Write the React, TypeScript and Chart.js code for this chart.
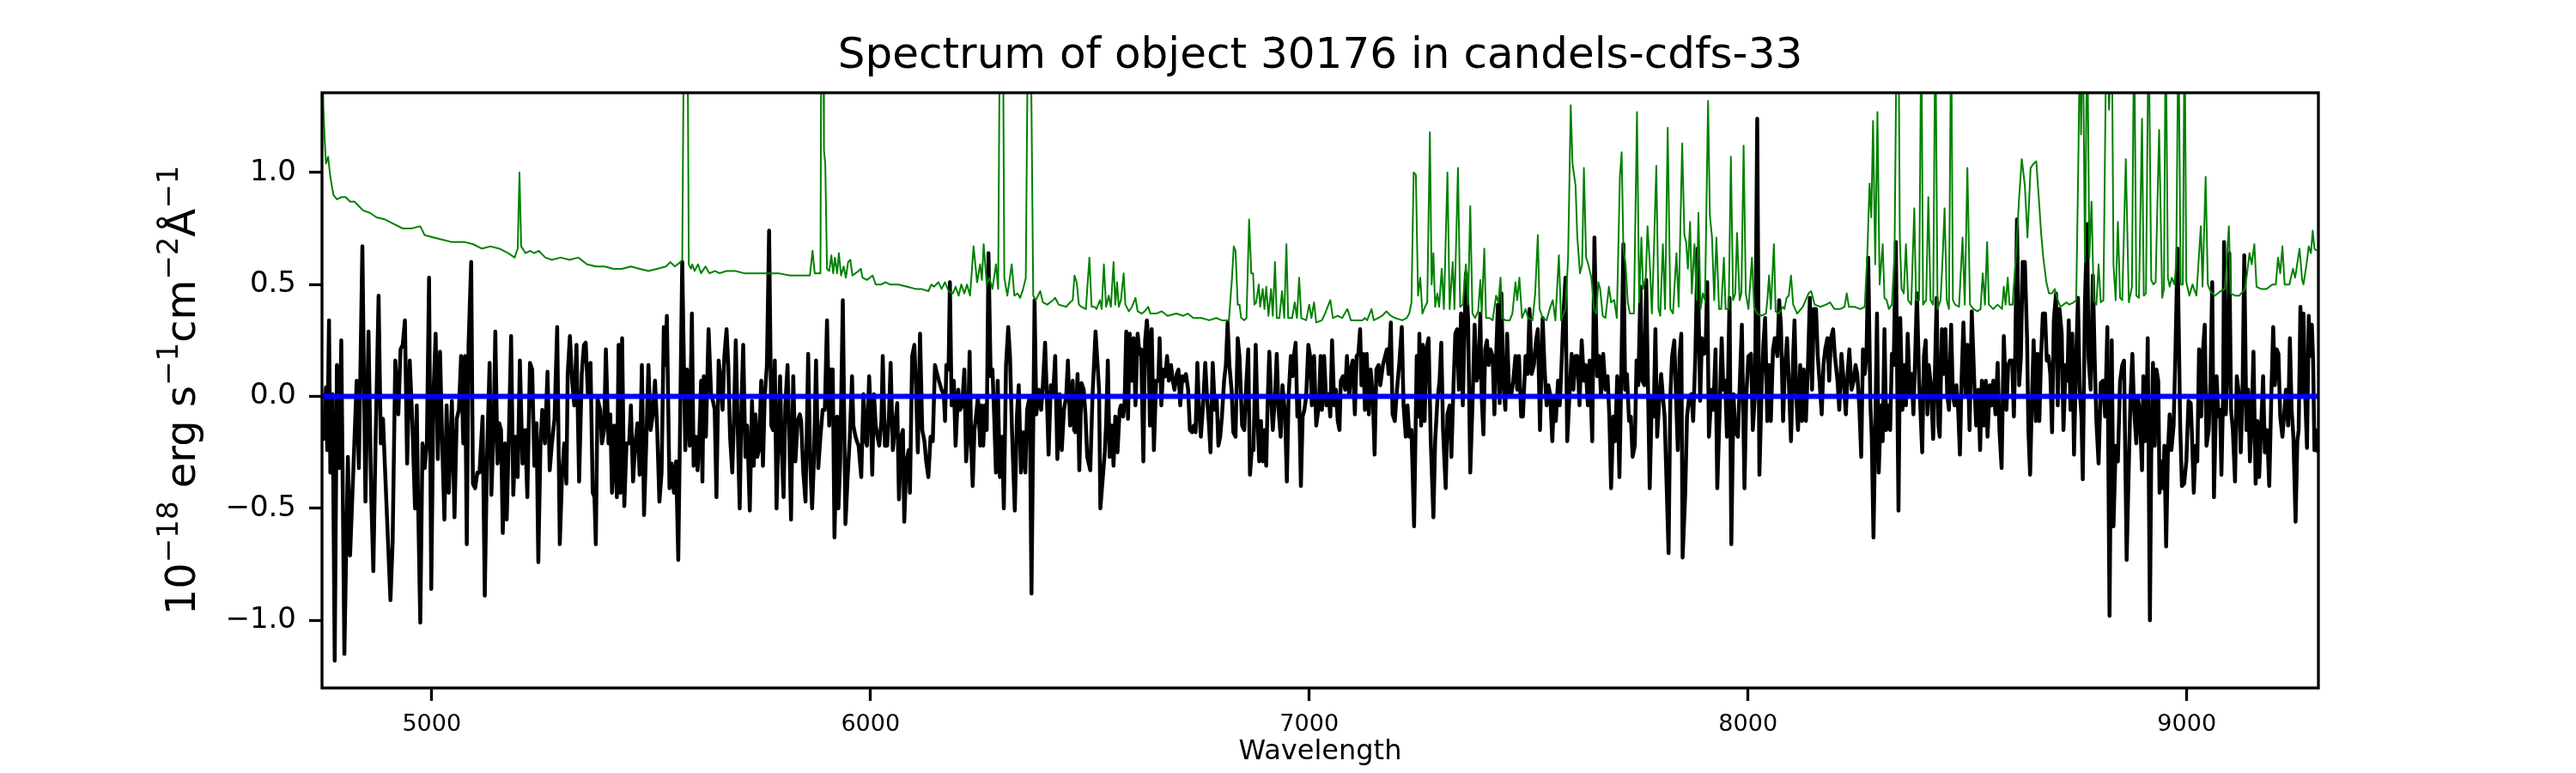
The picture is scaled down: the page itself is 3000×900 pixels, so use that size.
import { useEffect, useRef } from "react";
import { Chart, registerables } from "chart.js";

Chart.register(...registerables);

// observed flux, [wavelength (Å), 1e-18 erg/s/cm2/Å]
const fluxPoints: [number, number][] = [
  [4749,-0.17],[4754,-0.19],[4759,0.04],[4762,-0.24],[4766,0.34],[4769,-0.34],[4774,0.01],[4779,-1.18],[4784,0.14],[4789,-0.32],[4794,0.25],[4801,-1.15],[4809,-0.27],[4814,-0.71],[4822,-0.30],[4829,0.07],[4834,-0.32],[4842,0.67],[4849,-0.47],[4856,0.29],[4862,-0.43],[4867,-0.78],[4872,-0.21],[4879,0.45],[4884,-0.21],[4889,-0.10],[4894,-0.34],[4899,-0.58],[4906,-0.91],[4911,-0.65],[4917,0.16],[4924,-0.08],[4929,0.21],[4934,0.23],[4939,0.34],[4944,-0.30],[4950,0.16],[4956,-0.12],[4962,-0.50],[4966,-0.04],[4969,-0.47],[4974,-1.01],[4979,-0.21],[4984,-0.32],[4989,-0.21],[4994,0.53],[4999,-0.86],
  [5004,0.01],[5009,0.28],[5014,-0.28],[5019,0.20],[5024,-0.21],[5029,-0.55],[5034,-0.04],[5039,-0.43],[5046,-0.02],[5052,-0.54],[5057,-0.10],[5062,-0.06],[5067,0.18],[5072,-0.21],[5076,0.18],[5080,-0.66],[5084,0.23],[5090,0.60],[5094,-0.39],[5099,-0.41],[5104,-0.34],[5109,-0.34],[5116,-0.09],[5121,-0.89],[5126,-0.28],[5132,0.15],[5136,-0.44],[5141,-0.16],[5145,0.29],[5150,-0.30],[5154,-0.12],[5158,-0.15],[5162,-0.61],[5167,-0.21],[5171,-0.55],[5176,-0.17],[5181,0.27],[5186,-0.44],[5191,-0.18],[5196,-0.36],[5201,0.16],[5207,-0.30],[5213,-0.15],[5218,-0.45],[5224,0.15],[5229,0.12],[5234,-0.31],[5239,-0.12],[5243,-0.74],[5248,-0.21],[5252,-0.06],[5258,-0.21],[5264,0.11],[5269,-0.33],[5274,-0.21],[5280,-0.10],[5286,0.31],[5292,-0.66],[5297,-0.36],[5302,-0.21],[5307,-0.39],[5310,0.10],[5315,0.27],[5320,0.07],[5325,-0.04],[5330,0.23],[5336,-0.38],[5342,0.10],[5347,0.23],[5351,0.24],[5356,0.01],[5362,0.15],[5367,-0.43],[5371,-0.45],[5374,-0.66],[5378,-0.01],[5384,-0.06],[5388,-0.21],[5393,-0.15],[5397,0.21],[5403,-0.21],[5407,-0.08],[5411,-0.43],[5416,-0.13],[5422,-0.45],[5426,0.23],[5430,-0.43],[5434,0.26],[5439,-0.49],[5444,-0.21],[5450,-0.21],[5454,-0.04],[5459,-0.38],[5464,-0.21],[5469,-0.12],[5474,-0.35],[5479,0.14],[5484,-0.53],[5489,-0.21],[5494,0.14],[5499,-0.15],[5504,-0.08],[5509,0.07],[5514,-0.15],[5519,-0.47],[5524,-0.34],[5529,0.31],[5532,0.14],[5536,0.36],[5542,-0.41],[5547,-0.30],[5552,-0.43],[5557,-0.29],[5562,-0.73],
  [5571,0.60],[5578,-0.24],[5582,0.12],[5588,-0.22],[5593,0.37],[5597,-0.31],[5602,-0.18],[5606,-0.33],[5610,-0.18],[5614,0.07],[5617,-0.38],[5620,0.09],[5625,-0.18],[5631,0.30],[5637,0.00],[5641,-0.02],[5645,-0.06],[5649,-0.45],[5654,0.16],[5658,0.09],[5663,-0.06],[5667,0.18],[5672,0.30],[5676,0.14],[5680,-0.18],[5685,-0.34],[5689,-0.09],[5693,0.25],[5699,-0.27],[5702,-0.50],[5706,-0.04],[5710,0.23],[5715,-0.27],[5719,-0.13],[5725,-0.51],[5730,-0.02],[5734,-0.31],[5738,-0.08],[5742,-0.27],[5746,-0.24],[5751,0.07],[5755,-0.31],[5759,0.00],[5764,0.14],[5769,0.74],[5774,-0.13],[5778,-0.15],[5782,0.16],[5786,-0.50],[5790,-0.18],[5794,0.09],[5798,-0.25],[5802,-0.45],[5806,-0.04],[5811,0.14],[5815,-0.18],[5819,-0.55],[5824,0.09],[5829,-0.29],[5834,-0.11],[5839,-0.08],[5842,-0.11],[5847,-0.34],[5852,-0.47],[5858,0.19],[5863,-0.31],[5867,-0.50],[5871,-0.29],[5876,0.16],[5881,-0.32],[5886,-0.18],[5891,-0.06],[5896,-0.06],[5901,0.34],[5906,-0.13],[5909,0.12],[5914,0.12],[5918,-0.63],[5924,-0.09],[5927,-0.50],[5931,-0.29],[5937,0.43],[5943,-0.57],[5948,-0.36],[5953,-0.18],[5958,0.09],[5961,-0.13],[5966,-0.18],[5969,-0.20],[5973,-0.22],[5979,-0.36],[5984,0.01],[5989,-0.20],[5992,-0.22],[5997,0.09],
  [6001,-0.09],[6004,-0.35],[6008,0.01],[6012,-0.13],[6016,-0.18],[6020,-0.22],[6025,-0.11],[6028,0.18],[6033,-0.22],[6038,-0.22],[6042,-0.09],[6046,0.15],[6051,-0.24],[6056,-0.13],[6061,-0.03],[6065,-0.46],[6070,-0.18],[6074,-0.15],[6077,-0.56],[6082,-0.29],[6087,-0.24],[6090,-0.43],[6095,0.18],[6100,0.23],[6104,0.03],[6108,-0.25],[6113,0.28],[6118,-0.15],[6123,-0.20],[6127,-0.29],[6132,-0.36],[6137,-0.18],[6142,-0.20],[6147,0.14],[6152,0.10],[6156,0.07],[6162,0.03],[6167,0.01],[6170,-0.11],[6173,0.14],[6178,0.12],[6181,0.51],[6185,-0.04],[6190,0.07],[6194,-0.22],[6200,0.03],[6204,-0.06],[6209,-0.04],[6214,0.12],[6218,-0.29],[6222,-0.18],[6226,0.20],[6230,-0.24],[6233,-0.40],[6237,-0.15],[6241,-0.08],[6245,0.00],[6250,-0.22],[6253,-0.04],[6257,-0.22],[6261,-0.04],[6265,-0.15],[6269,0.64],[6274,0.09],[6278,0.12],[6282,-0.09],[6286,-0.34],[6290,0.07],[6295,-0.36],[6300,-0.18],[6304,-0.50],[6309,0.14],[6314,0.31],[6318,0.18],[6323,-0.18],[6329,-0.51],[6334,-0.08],[6338,0.05],[6343,-0.34],[6348,-0.16],[6353,-0.34],[6357,-0.06],[6363,0.00],[6367,-0.88],
  [6374,0.43],[6378,-0.08],[6384,0.03],[6389,-0.06],[6393,0.05],[6398,0.24],[6402,0.00],[6406,-0.26],[6411,0.05],[6416,0.00],[6421,0.18],[6426,-0.28],[6431,0.01],[6436,-0.24],[6441,-0.06],[6446,0.00],[6450,0.16],[6455,-0.13],[6461,0.07],[6464,-0.15],[6467,-0.16],[6472,0.10],[6476,-0.33],[6481,0.06],[6486,0.03],[6490,-0.08],[6494,-0.27],[6501,-0.33],[6506,0.00],[6513,0.29],[6517,0.16],[6521,0.03],[6524,-0.50],[6528,-0.40],[6534,-0.25],[6537,-0.13],[6541,0.16],[6545,-0.27],[6550,-0.13],[6554,-0.31],[6558,-0.09],[6563,-0.25],[6568,-0.06],[6571,-0.04],[6576,-0.09],[6579,-0.04],[6583,0.29],[6587,-0.10],[6591,0.28],[6596,0.07],[6600,0.26],[6604,-0.04],[6609,0.28],[6613,0.19],[6617,0.21],[6622,-0.29],[6626,0.25],[6630,0.34],[6633,0.26],[6637,-0.13],[6641,0.30],[6646,-0.24],[6651,0.07],[6656,0.07],[6659,0.26],[6663,-0.04],[6667,0.12],[6672,0.09],[6676,0.18],[6680,0.07],[6685,0.14],[6689,0.07],[6693,0.03],[6698,0.10],[6702,0.12],[6706,-0.04],[6711,0.09],[6715,0.07],[6719,0.10],[6724,0.03],[6728,-0.15],[6733,-0.16],[6737,-0.13],[6741,-0.16],[6745,0.15],[6749,-0.06],[6753,-0.18],[6758,-0.04],[6763,0.15],[6767,0.00],[6771,-0.11],[6775,-0.25],[6780,0.15],[6785,-0.06],[6789,0.00],[6793,-0.22],[6797,-0.18],[6801,-0.09],[6806,0.07],[6810,0.14],[6814,0.33],[6818,0.14],[6823,0.03],[6827,-0.16],[6832,-0.18],[6837,0.26],[6841,0.18],[6847,-0.13],[6852,-0.15],[6857,0.07],[6861,0.21],[6865,-0.35],[6869,-0.24],[6873,-0.24],[6878,0.23],[6882,-0.09],[6886,-0.29],[6890,-0.11],[6894,-0.29],[6898,-0.15],[6902,-0.31],[6905,-0.04],[6909,0.20],[6913,0.00],[6917,-0.15],[6922,0.00],[6926,0.19],[6930,-0.06],[6935,-0.18],[6939,0.05],[6945,-0.08],[6949,-0.38],[6953,0.00],[6958,0.18],[6962,0.09],[6965,0.18],[6969,0.24],[6973,-0.09],[6977,0.00],[6981,-0.40],[6985,-0.09],[6989,-0.06],[6993,0.00],[6998,0.23],
  [7002,0.18],[7006,-0.04],[7011,0.18],[7016,-0.13],[7022,-0.04],[7026,0.18],[7029,-0.06],[7034,0.18],[7039,-0.04],[7044,0.01],[7048,-0.09],[7052,0.25],[7057,-0.04],[7061,0.03],[7065,-0.11],[7069,-0.15],[7072,0.07],[7077,0.09],[7082,0.03],[7086,0.18],[7091,0.00],[7095,0.12],[7099,0.16],[7104,-0.08],[7108,0.18],[7112,0.19],[7116,0.30],[7119,0.05],[7123,0.19],[7127,-0.06],[7131,0.19],[7136,-0.08],[7140,0.12],[7145,0.00],[7149,-0.26],[7153,0.12],[7158,0.14],[7162,0.05],[7168,0.14],[7173,0.18],[7177,0.21],[7181,0.10],[7186,0.33],[7190,-0.08],[7195,-0.11],[7200,0.03],[7205,0.14],[7211,0.31],
  [7215,-0.04],[7220,-0.18],[7224,-0.04],[7228,-0.18],[7233,-0.15],[7239,-0.58],[7245,0.18],[7249,-0.09],[7251,0.28],[7255,-0.13],[7259,0.23],[7263,-0.11],[7267,0.21],[7272,0.26],[7277,-0.20],[7283,-0.54],[7287,-0.20],[7292,-0.02],[7297,0.07],[7301,0.24],[7305,-0.15],[7311,-0.41],[7315,-0.08],[7320,-0.04],[7324,-0.27],[7328,0.00],[7333,0.28],[7337,0.30],[7341,0.03],[7346,0.37],[7350,-0.04],[7357,0.55],[7362,0.35],[7367,-0.34],[7372,-0.04],[7377,0.32],[7382,0.07],[7386,0.10],[7390,0.37],[7393,0.00],[7397,-0.17],[7401,0.21],[7405,0.25],[7409,0.14],[7413,0.21],[7418,0.18],[7422,-0.08],[7426,0.18],[7430,0.41],[7434,-0.03],[7438,0.46],[7442,0.07],[7447,-0.06],[7451,0.28],[7456,0.00],[7460,0.00],[7465,0.07],[7470,0.18],[7474,0.03],[7478,0.18],[7483,-0.09],[7487,-0.09],[7493,0.18],[7498,0.10],[7502,0.39],[7507,0.10],[7512,0.14],[7517,0.25],[7521,0.30],[7526,-0.15],[7532,0.35],[7536,0.14],[7541,-0.04],[7545,0.05],[7549,0.01],[7554,-0.20],[7558,0.00],[7562,-0.11],[7567,0.07],[7571,-0.04],[7575,0.14],[7579,0.35],[7584,0.53],[7588,-0.20],[7593,0.00],[7598,0.19],[7602,0.03],[7607,0.18],[7611,0.18],[7616,-0.04],[7621,0.25],[7626,0.07],[7630,0.14],[7635,-0.04],[7639,0.16],[7645,-0.20],[7650,0.71],[7656,0.09],[7661,0.18],[7665,0.00],[7670,0.19],[7675,0.03],[7680,0.09],[7684,-0.09],[7688,-0.41],[7693,-0.09],[7697,-0.20],[7702,0.09],[7707,-0.36],[7711,0.07],[7716,0.68],[7720,0.03],[7724,0.10],[7729,-0.11],[7733,-0.09],[7737,-0.27],[7742,-0.22],[7746,0.16],[7750,0.05],[7755,0.49],[7759,0.07],[7764,0.05],[7768,0.52],[7772,0.05],[7776,-0.41],[7781,0.00],[7785,-0.09],[7789,0.30],[7793,-0.18],[7797,-0.04],[7802,0.10],[7806,0.00],[7810,-0.09],[7814,-0.36],[7819,-0.70],[7823,0.00],[7827,0.18],[7832,0.25],[7836,0.00],[7840,-0.24],[7844,0.18],[7848,0.28],[7851,-0.72],[7857,-0.43],[7861,-0.09],[7866,0.00],[7871,0.01],[7875,-0.11],[7880,0.18],[7885,0.66],[7891,-0.02],[7895,0.26],[7900,0.19],[7904,0.26],[7907,0.51],[7911,-0.18],[7917,0.03],[7921,-0.06],[7926,0.21],[7930,-0.41],[7935,-0.09],[7940,0.26],[7944,0.03],[7948,0.07],[7952,-0.18],[7958,0.44],[7962,-0.66],[7967,0.01],[7971,-0.16],[7977,-0.18],[7982,0.10],[7986,0.32],[7992,-0.41],[7996,0.00],
  [8001,0.18],[8007,0.19],[8011,-0.15],[8016,0.01],[8021,1.24],[8026,-0.35],[8031,0.03],[8035,0.23],[8039,0.35],[8044,-0.11],[8048,0.14],[8052,-0.11],[8057,0.21],[8061,0.26],[8067,0.18],[8071,0.43],[8075,0.32],[8080,-0.11],[8084,0.12],[8089,0.26],[8093,0.07],[8098,-0.20],[8103,0.18],[8106,0.34],[8110,0.00],[8114,-0.15],[8119,0.14],[8123,-0.11],[8127,0.12],[8132,-0.11],[8137,0.16],[8141,0.44],[8146,0.03],[8150,0.39],[8155,0.39],[8159,0.18],[8163,0.07],[8168,-0.08],[8172,0.14],[8176,0.21],[8181,0.26],[8185,0.07],[8189,0.26],[8194,0.30],[8198,0.18],[8204,0.07],[8208,-0.06],[8213,0.19],[8218,0.07],[8223,-0.08],[8227,0.10],[8231,0.21],[8236,0.03],[8241,0.07],[8245,0.14],[8249,0.10],[8254,-0.06],[8258,-0.27],[8262,0.21],[8266,0.10],[8270,0.18],[8274,0.62],[8279,-0.04],[8282,-0.18],[8286,-0.63],[8290,-0.15],[8294,0.37],[8298,-0.34],[8303,-0.04],[8307,-0.20],[8311,0.30],[8315,-0.15],[8319,-0.04],[8324,-0.15],[8328,0.19],[8332,0.14],[8337,0.69],[8343,-0.51],[8347,0.35],[8352,-0.06],[8356,0.14],[8360,-0.04],[8364,0.28],[8369,0.00],[8373,0.10],[8377,-0.08],[8381,0.18],[8385,0.46],[8390,0.07],[8393,-0.06],[8397,-0.25],[8401,0.18],[8405,0.25],[8409,-0.08],[8412,0.14],[8417,0.05],[8422,-0.19],[8425,0.03],[8430,0.44],[8434,-0.13],[8437,-0.18],[8442,0.30],[8446,0.10],[8450,0.30],[8454,0.01],[8458,-0.06],[8463,0.32],[8467,0.00],[8471,-0.04],[8475,0.05],[8479,-0.06],[8483,-0.26],[8487,0.09],[8491,0.33],[8496,0.01],[8500,0.23],[8505,-0.15],[8510,0.38],[8516,0.05],[8520,-0.13],[8525,0.03],[8529,-0.24],[8533,0.07],[8538,-0.13],[8542,0.07],[8546,-0.18],[8551,0.05],[8555,-0.04],[8559,0.07],[8564,-0.08],[8569,0.15],[8573,-0.15],[8578,-0.32],[8583,0.27],[8589,-0.06],[8593,0.14],[8597,0.16],[8602,0.16],[8606,-0.09],[8609,0.18],[8613,0.79],[8618,0.05],[8622,0.18],[8626,0.60],[8631,0.60],[8636,0.26],[8639,-0.15],[8643,-0.35],[8647,-0.02],[8651,0.25],[8656,-0.11],[8660,0.19],[8664,-0.11],[8668,0.18],[8672,0.37],[8677,0.37],[8681,0.16],[8685,0.18],[8689,0.10],[8693,-0.16],[8697,0.34],[8702,0.46],[8706,-0.04],[8710,0.39],[8715,0.28],[8719,-0.15],[8724,0.14],[8728,0.07],[8731,0.34],[8735,-0.06],[8739,0.28],[8743,-0.26],[8748,0.18],[8752,0.44],[8756,0.03],[8760,-0.09],[8763,-0.37],[8768,0.43],[8773,0.77],[8776,0.18],[8781,0.03],[8786,0.54],[8790,0.18],[8794,-0.11],[8799,-0.30],[8804,0.06],[8809,0.07],[8814,-0.09],[8819,0.31],[8824,-0.98],[8829,0.25],[8833,-0.58],[8838,-0.22],[8843,-0.29],[8848,0.07],[8853,0.14],[8857,0.16],[8863,-0.73],
  [8868,-0.30],[8872,0.01],[8876,0.19],[8880,-0.06],[8885,-0.21],[8888,0.00],[8891,-0.04],[8895,-0.18],[8898,-0.33],[8901,0.09],[8905,-0.20],[8908,-0.13],[8911,0.26],[8916,-1.00],[8919,-0.27],[8923,0.15],[8927,-0.22],[8931,0.12],[8935,0.07],[8938,-0.43],[8942,-0.29],[8946,-0.41],[8949,-0.22],[8953,-0.67],[8957,-0.25],[8961,-0.08],[8965,-0.24],[8970,-0.13],[8974,0.18],[8979,0.66],[8985,-0.13],[8989,-0.40],[8994,-0.39],[8999,-0.29],[9004,-0.02],[9009,-0.03],[9012,-0.18],[9016,-0.43],[9020,-0.22],[9024,-0.29],[9028,0.21],[9033,-0.09],[9037,0.21],[9041,0.32],[9045,-0.22],[9050,-0.15],[9054,0.07],[9058,0.51],[9062,-0.45],[9068,0.09],[9072,-0.09],[9076,-0.06],[9079,-0.35],[9083,0.03],[9085,0.69],[9089,-0.08],[9093,0.14],[9097,0.64],[9101,-0.06],[9105,-0.15],[9110,-0.38],[9114,0.09],[9119,0.01],[9123,-0.25],[9127,0.00],[9131,0.63],[9136,-0.15],[9140,0.03],[9144,-0.29],[9148,-0.11],[9152,0.20],[9157,-0.39],[9161,-0.11],[9165,-0.36],[9170,-0.11],[9174,0.09],[9178,-0.25],[9183,-0.15],[9188,-0.40],[9193,0.03],[9197,0.31],[9201,0.05],[9205,0.21],[9209,0.19],[9213,-0.09],[9218,-0.18],[9222,-0.08],[9226,0.03],[9231,-0.13],[9235,0.26],[9239,-0.06],[9243,-0.18],[9248,-0.56],[9252,-0.20],[9255,-0.15],[9259,0.40],[9263,0.00],[9266,0.37],[9270,0.00],[9274,-0.23],[9278,0.36],[9281,0.18],[9285,0.32],[9288,0.16],[9291,-0.24],[9294,-0.15],[9298,-0.25],
];

// noise spectrum (green), sky lines run off the top of the axes
const noisePoints: [number, number][] = [
  [4750,1.7],[4753,1.3],[4756,1.15],[4759,1.04],[4764,1.07],[4769,0.98],[4776,0.90],[4784,0.88],[4794,0.89],[4804,0.89],[4814,0.87],[4824,0.87],[4834,0.85],[4844,0.83],[4859,0.82],[4874,0.80],[4894,0.79],[4914,0.77],[4934,0.75],[4954,0.75],[4974,0.76],[4984,0.72],[5004,0.71],[5024,0.70],[5044,0.69],[5074,0.69],[5094,0.68],[5114,0.66],[5134,0.67],[5154,0.66],[5174,0.64],[5189,0.62],[5196,0.66],[5200,1.00],[5204,0.67],[5214,0.64],[5224,0.65],[5234,0.64],[5244,0.65],[5259,0.62],[5274,0.61],[5294,0.62],[5314,0.61],[5334,0.62],[5354,0.59],[5374,0.58],[5394,0.58],[5414,0.57],[5434,0.57],[5454,0.58],[5474,0.57],[5494,0.56],[5514,0.57],[5534,0.58],[5544,0.60],[5554,0.58],[5567,0.60],
  [5571,0.61],[5575,1.7],[5583,1.7],[5586,0.59],[5591,0.57],[5594,0.59],[5599,0.56],[5607,0.59],[5614,0.55],[5624,0.58],[5633,0.55],[5646,0.56],[5656,0.55],[5672,0.56],[5692,0.56],[5712,0.55],[5731,0.55],[5757,0.55],[5777,0.55],[5790,0.55],[5816,0.54],[5842,0.54],[5862,0.54],[5868,0.65],[5873,0.55],[5881,0.55],[5886,0.55],[5888,1.7],[5893,1.5],[5894,1.10],[5897,1.04],[5901,0.57],[5906,0.56],[5911,0.63],[5915,0.55],[5919,0.62],[5924,0.55],[5928,0.64],[5933,0.54],[5939,0.58],[5944,0.53],[5949,0.60],[5954,0.61],[5959,0.54],[5966,0.55],[5973,0.56],[5978,0.57],[5982,0.53],[5992,0.52],[6005,0.54],[6012,0.50],[6025,0.50],[6034,0.51],[6044,0.50],[6064,0.50],[6083,0.49],[6103,0.48],[6116,0.48],[6132,0.47],[6139,0.50],[6145,0.49],[6155,0.51],[6162,0.48],[6170,0.51],[6178,0.47],[6188,0.46],[6194,0.49],[6201,0.45],[6207,0.50],[6214,0.46],[6220,0.50],[6227,0.45],[6235,0.67],[6243,0.51],[6250,0.59],[6254,0.52],[6258,0.68],[6265,0.50],[6271,0.53],[6278,0.48],[6286,0.59],[6291,0.48],[6295,1.7],[6302,1.7],[6305,0.53],[6312,0.45],[6322,0.59],[6328,0.45],[6335,0.46],[6341,0.44],[6348,0.48],[6354,0.53],[6359,1.7],[6365,1.7],[6371,0.45],[6377,0.43],[6387,0.47],[6393,0.42],[6403,0.41],
  [6416,0.43],[6421,0.44],[6429,0.41],[6446,0.40],[6455,0.42],[6461,0.43],[6465,0.54],[6470,0.51],[6475,0.41],[6481,0.40],[6491,0.39],[6499,0.62],[6504,0.40],[6511,0.40],[6515,0.39],[6523,0.43],[6527,0.39],[6532,0.59],[6537,0.40],[6543,0.45],[6548,0.40],[6554,0.60],[6558,0.41],[6562,0.51],[6566,0.40],[6571,0.43],[6577,0.55],[6581,0.41],[6589,0.38],[6596,0.40],[6604,0.44],[6609,0.38],[6618,0.37],[6625,0.38],[6633,0.40],[6638,0.37],[6651,0.37],[6664,0.38],[6677,0.36],[6697,0.37],[6713,0.36],[6723,0.37],[6736,0.35],[6755,0.35],[6772,0.34],[6788,0.35],[6801,0.34],[6817,0.34],[6824,0.53],[6828,0.67],[6832,0.65],[6837,0.41],[6841,0.41],[6845,0.35],[6852,0.34],[6857,0.35],[6863,0.79],[6868,0.55],[6872,0.55],[6875,0.41],[6879,0.42],[6885,0.50],[6888,0.40],[6894,0.48],[6898,0.39],[6902,0.49],[6907,0.36],[6913,0.48],[6917,0.36],[6922,0.60],[6926,0.35],[6932,0.35],[6938,0.47],[6943,0.35],[6948,0.68],[6952,0.35],[6961,0.35],[6967,0.42],[6972,0.35],[6977,0.53],[6982,0.35],[6993,0.34],[7000,0.41],[7005,0.35],[7011,0.42],[7016,0.33],[7029,0.34],[7036,0.37],[7048,0.43],[7054,0.35],[7065,0.36],[7075,0.35],[7087,0.39],[7095,0.34],[7108,0.34],[7121,0.34],[7127,0.35],[7132,0.34],[7142,0.39],[7147,0.34],[7157,0.35],[7166,0.36],[7176,0.38],[7186,0.36],
  [7196,0.35],[7212,0.34],[7222,0.35],[7228,0.37],[7233,0.42],[7238,1.00],[7243,0.99],[7248,0.45],[7253,0.53],[7258,0.37],[7264,0.40],[7269,0.42],[7275,1.18],[7279,0.50],[7283,0.64],[7287,0.40],[7292,0.46],[7296,0.40],[7302,0.57],[7307,0.39],[7315,1.00],[7320,0.39],[7327,0.60],[7331,0.39],[7339,1.02],[7344,0.40],[7350,0.41],[7357,0.59],[7362,0.41],[7367,0.85],[7372,0.37],[7378,0.35],[7385,0.38],[7390,0.52],[7393,0.37],[7399,0.66],[7403,0.35],[7411,0.35],[7418,0.34],[7426,0.45],[7431,0.42],[7436,0.53],[7440,0.35],[7447,0.34],[7457,0.34],[7463,0.37],[7470,0.51],[7474,0.43],[7479,0.53],[7485,0.35],[7493,0.39],[7499,0.35],[7509,0.34],[7515,0.46],[7521,0.72],[7525,0.39],[7532,0.35],[7541,0.34],[7548,0.39],[7555,0.43],[7561,0.34],[7569,0.63],[7574,0.34],[7584,0.39],[7590,0.62],[7596,1.30],[7600,1.04],[7607,0.94],[7611,0.71],[7617,0.55],[7622,0.59],[7626,1.02],[7631,0.62],[7636,0.59],[7643,0.53],[7649,0.39],[7654,0.37],[7659,0.51],[7663,0.48],[7669,0.36],[7675,0.35],[7683,0.49],[7688,0.42],[7695,0.43],[7701,0.35],[7708,0.98],[7712,1.09],[7716,0.66],[7721,0.59],[7726,0.42],[7731,0.37],[7740,0.37],[7747,1.27],[7752,0.42],[7757,0.71],[7761,0.48],[7767,0.53],[7771,0.76],[7776,0.60],[7781,0.37],[7786,0.68],[7791,1.03],[7796,0.39],[7800,0.36],[7806,0.68],[7811,0.39],[7817,1.20],[7823,0.39],[7829,0.37],[7837,0.64],[7842,0.40],[7850,1.13],[7855,0.72],[7859,0.69],[7863,0.57],[7868,0.78],[7872,0.46],[7878,0.68],[7883,0.43],[7887,0.82],[7892,0.39],[7897,0.46],[7902,0.43],[7909,1.32],[7913,0.81],[7918,0.71],[7923,0.43],[7928,0.71],[7934,0.39],[7939,0.39],[7945,0.62],[7949,0.39],[7956,0.39],[7961,1.07],[7966,0.43],[7971,0.46],[7975,0.73],[7981,0.43],[7985,0.46],[7990,1.12],[7995,0.46],[8001,0.39],[8009,0.62],[8014,0.40],[8021,0.37],[8031,0.36],[8041,0.37],
  [8044,0.43],[8048,0.54],[8052,0.39],[8059,0.68],[8063,0.38],[8070,0.37],[8080,0.40],[8083,0.39],[8088,0.44],[8093,0.45],[8098,0.54],[8103,0.41],[8112,0.37],[8125,0.40],[8138,0.46],[8144,0.47],[8152,0.41],[8165,0.40],[8178,0.41],[8187,0.42],[8197,0.39],[8210,0.39],[8220,0.40],[8225,0.46],[8230,0.40],[8243,0.40],[8256,0.39],[8266,0.40],[8272,0.64],[8277,0.95],[8281,0.80],[8285,1.23],[8290,0.59],[8295,1.27],[8300,0.50],[8307,0.68],[8311,0.44],[8316,0.43],[8321,0.39],[8328,0.41],[8334,0.64],[8339,1.7],[8343,1.7],[8346,0.71],[8350,0.48],[8355,0.46],[8360,0.68],[8365,0.43],[8372,0.41],[8379,0.84],[8383,0.43],[8390,0.43],[8395,1.7],[8399,0.41],[8406,0.43],[8411,0.89],[8416,0.43],[8422,0.41],[8427,1.7],[8432,0.39],[8439,0.43],[8444,0.64],[8448,0.84],[8453,0.43],[8458,0.39],[8463,1.7],[8467,0.43],[8472,0.41],[8481,0.40],[8489,0.71],[8494,0.41],[8500,1.02],[8506,0.41],[8514,0.39],[8523,0.38],[8530,0.39],[8535,0.55],[8540,0.41],[8545,0.69],[8549,0.41],[8559,0.39],[8569,0.41],[8579,0.39],[8583,0.49],[8587,0.41],[8592,0.53],[8596,0.41],[8603,0.41],[8611,0.64],[8618,0.89],[8624,1.06],[8631,0.94],[8637,0.71],[8644,1.02],[8651,1.04],[8657,1.05],[8664,0.85],[8668,0.73],[8673,0.62],[8680,0.51],[8686,0.46],[8693,0.46],[8699,0.48],[8706,0.43],[8712,0.40],[8719,0.41],[8726,0.42],[8732,0.41],[8742,0.42],[8748,0.43],[8753,1.07],[8757,1.7],[8759,1.17],[8763,1.7],[8768,0.60],[8773,1.7],[8778,0.62],[8783,0.87],[8788,0.43],[8794,0.41],[8799,0.59],[8804,0.42],[8810,0.43],[8817,1.7],[8823,1.28],[8829,1.7],[8833,0.59],[8838,0.43],[8843,0.78],[8848,0.44],[8853,0.43],[8861,1.06],[8868,0.42],
  [8875,0.49],[8880,1.7],[8885,0.45],[8891,0.44],[8898,1.24],[8902,0.45],[8907,0.46],[8913,1.7],[8919,0.52],[8924,0.50],[8929,0.51],[8937,1.19],[8944,0.44],[8948,0.48],[8952,1.7],[8957,0.53],[8961,0.49],[8966,0.53],[8972,0.50],[8976,0.60],[8981,1.7],[8986,0.50],[8991,0.50],[8995,1.7],[8999,0.51],[9006,0.45],[9013,0.50],[9022,0.45],[9032,0.76],[9036,0.49],[9043,0.98],[9048,0.50],[9054,0.47],[9064,0.45],[9077,0.47],[9087,0.48],[9096,0.76],[9100,0.46],[9110,0.45],[9120,0.45],[9133,0.48],[9143,0.64],[9148,0.59],[9154,0.68],[9159,0.49],[9169,0.48],[9182,0.48],[9195,0.50],[9203,0.50],[9208,0.62],[9213,0.55],[9218,0.67],[9223,0.50],[9234,0.50],[9242,0.57],[9247,0.53],[9257,0.66],[9263,0.52],[9266,0.50],[9273,0.59],[9278,0.67],[9283,0.64],[9287,0.74],[9291,0.66],[9296,0.65],
];

const zeroLine: [number, number][] = [[4750, 0], [9300, 0]];

const xTicks = [5000, 6000, 7000, 8000, 9000];
const yTicks = [-1.0, -0.5, 0.0, 0.5, 1.0];

const titleText = "Spectrum of object 30176 in candels-cdfs-33";
const xLabel = "Wavelength";
// 10^-18 erg s^-1 cm^-2 Å^-1, drawn as base text + superscripts
const yLabelParts = [
  { text: "10", sup: false },
  { text: "\u221218", sup: true },
  { text: " erg s", sup: false },
  { text: "\u22121", sup: true },
  { text: "cm", sup: false },
  { text: "\u22122", sup: true },
  { text: "\u00c5", sup: false },
  { text: "\u22121", sup: true },
];

const FONT = "'DejaVu Sans', sans-serif";

const toXY = (pts: [number, number][]) => pts.map(([x, y]) => ({ x, y }));

const framePlugin = {
  id: "frame",
  afterDatasetsDraw(chart: any) {
    const { ctx, chartArea: a } = chart;
    ctx.save();
    ctx.strokeStyle = "#000";
    ctx.lineWidth = 3.3;
    ctx.strokeRect(a.left, a.top, a.right - a.left, a.bottom - a.top);
    ctx.restore();
  },
};

const yLabelPlugin = {
  id: "yLabel",
  afterDraw(chart: any) {
    const { ctx, chartArea: a } = chart;
    const size = 48;
    const supSize = 34;
    const rise = 20;
    ctx.save();
    ctx.translate(227, (a.top + a.bottom) / 2);
    ctx.rotate(-Math.PI / 2);
    ctx.fillStyle = "#000";
    ctx.textBaseline = "alphabetic";
    ctx.textAlign = "left";
    let total = 0;
    for (const p of yLabelParts) {
      ctx.font = `${p.sup ? supSize : size}px ${FONT}`;
      total += ctx.measureText(p.text).width;
    }
    let x = -total / 2;
    for (const p of yLabelParts) {
      ctx.font = `${p.sup ? supSize : size}px ${FONT}`;
      ctx.fillText(p.text, x, p.sup ? -rise : 0);
      x += ctx.measureText(p.text).width;
    }
    ctx.restore();
  },
};

const SpectrumChart = () => {
  const canvasRef = useRef<HTMLCanvasElement | null>(null);

  useEffect(() => {
    if (!canvasRef.current) return;
    const chart = new Chart(canvasRef.current, {
      type: "line",
      data: {
        datasets: [
          {
            data: toXY(zeroLine),
            borderColor: "#0000ff",
            borderWidth: 6,
            pointRadius: 0,
            order: 1,
          },
          {
            data: toXY(noisePoints),
            borderColor: "#008000",
            borderWidth: 2,
            pointRadius: 0,
            borderJoinStyle: "round",
            order: 2,
          },
          {
            data: toXY(fluxPoints),
            borderColor: "#000000",
            borderWidth: 4.5,
            pointRadius: 0,
            borderJoinStyle: "round",
            order: 3,
          },
        ],
      },
      options: {
        responsive: false,
        devicePixelRatio: 1,
        animation: false,
        parsing: false,
        layout: { padding: { left: 0, right: 300, top: 0, bottom: 0 } },
        elements: { line: { tension: 0, fill: false } },
        plugins: {
          legend: { display: false },
          tooltip: { enabled: false },
          title: {
            display: true,
            fullSize: false,
            text: titleText,
            color: "#000",
            font: { family: FONT, size: 50, weight: "normal", lineHeight: 1.2 },
            padding: { top: 36, bottom: 12 },
          },
        },
        scales: {
          x: {
            type: "linear",
            min: 4750,
            max: 9300,
            afterBuildTicks: (scale: any) => {
              scale.ticks = xTicks.map((v) => ({ value: v }));
            },
            afterFit: (scale: any) => {
              scale.height = 99;
            },
            ticks: {
              color: "#000",
              font: { family: FONT, size: 27 },
              padding: 12,
              maxRotation: 0,
              autoSkip: false,
              callback: (v: any) => String(v),
            },
            grid: {
              drawOnChartArea: false,
              drawTicks: true,
              tickLength: 15,
              tickWidth: 3.3,
              tickColor: "#000",
            },
            border: { display: false },
            title: {
              display: true,
              text: xLabel,
              color: "#000",
              font: { family: FONT, size: 32 },
              padding: { top: 0, bottom: 5 },
            },
          },
          y: {
            type: "linear",
            min: -1.302,
            max: 1.356,
            afterBuildTicks: (scale: any) => {
              scale.ticks = yTicks.map((v) => ({ value: v }));
            },
            afterFit: (scale: any) => {
              scale.width = 375;
            },
            ticks: {
              color: "#000",
              font: { family: FONT, size: 34 },
              padding: 15,
              callback: (v: any) => Number(v).toFixed(1).replace("-", "\u2212"),
            },
            grid: {
              drawOnChartArea: false,
              drawTicks: true,
              tickLength: 15,
              tickWidth: 3.3,
              tickColor: "#000",
            },
            border: { display: false },
          },
        },
      },
      plugins: [framePlugin, yLabelPlugin],
    } as any);

    return () => {
      chart.destroy();
    };
  }, []);

  return (
    <div style={{ position: "absolute", left: 0, top: 0, width: 3000, height: 900, background: "#fff" }}>
      <canvas ref={canvasRef} width={3000} height={900} />
    </div>
  );
};

export default function App() {
  return <SpectrumChart />;
}
